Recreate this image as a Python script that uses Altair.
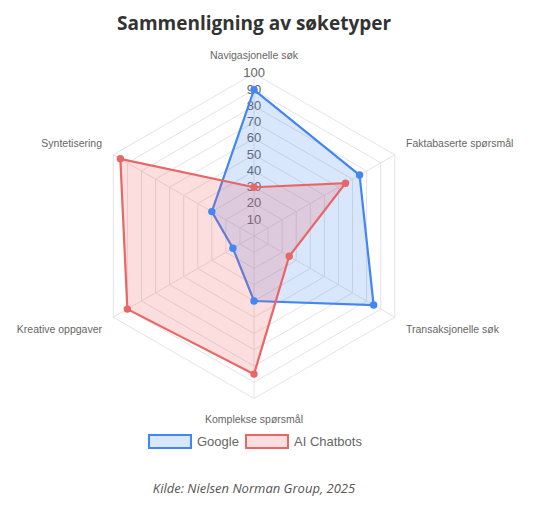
import altair as alt
import pandas as pd
import math

# ---- data ----
categories = ["Navigasjonelle søk", "Faktabaserte spørsmål", "Transaksjonelle søk",
              "Komplekse spørsmål", "Kreative oppgaver", "Syntetisering"]
series = ["Google", "AI Chatbots"]
google = [90, 75, 85, 40, 15, 30]
ai_chatbots = [30, 65, 25, 85, 90, 95]
ticks = [10, 20, 30, 40, 50, 60, 70, 80, 90, 100]

line_colors = ["#4285F4", "#E86666"]
fill_colors = ["#4285F4", "#F05A5A"]

n = len(categories)
W, H = 520, 514
XDOM = [-151.4, 168.6]
YDOM = [-176.0, 140.3]

xs = alt.Scale(domain=XDOM, range=[0, W], nice=False, zero=False)
ys = alt.Scale(domain=YDOM, range=[H, 0], nice=False, zero=False)

rows = []
for s, vals in zip(series, [google, ai_chatbots]):
    for k in range(n + 1):
        i = k % n
        rows.append({"series": s, "cat": categories[i], "idx": i, "order": k, "value": vals[i]})
poly = pd.DataFrame(rows)
pts = poly[poly["order"] < n]

grid_rows = []
for t in ticks:
    for k in range(n + 1):
        grid_rows.append({"level": t, "idx": k % n, "order": k})
grid = pd.DataFrame(grid_rows)
spokes = pd.DataFrame({"idx": list(range(n))})
cat_df = pd.DataFrame({"cat": categories, "idx": list(range(n))})
tick_df = pd.DataFrame({"tick": ticks})

two_pi = 2 * math.pi
A = f"(datum.idx * {two_pi} / {n})"

def xy(chart, rfield, out_x="px", out_y="py"):
    return chart.transform_calculate(
        **{out_x: f"datum.{rfield} * sin{A}", out_y: f"datum.{rfield} * cos{A}"}
    )

X = lambda f="px": alt.X(f"{f}:Q", scale=xs, axis=None)
Y = lambda f="py": alt.Y(f"{f}:Q", scale=ys, axis=None)

grid_layer = xy(alt.Chart(grid), "level").mark_line(
    color="#e4e4e4", strokeWidth=1
).encode(x=X(), y=Y(), detail="level:N", order="order:Q")

spoke_layer = alt.Chart(spokes).transform_calculate(
    x0="0", y0="0", x1=f"100 * sin{A}", y1=f"100 * cos{A}"
).mark_rule(color="#e4e4e4", strokeWidth=1).encode(
    x=X("x0"), y=Y("y0"), x2="x1:Q", y2="y1:Q"
)

tick_layer = alt.Chart(tick_df).transform_calculate(zero="0").mark_text(
    font="Liberation Sans", fontSize=13, color="#666666", baseline="middle", align="center"
).encode(x=X("zero"), y=Y("tick"), text="tick:Q")

color_line = alt.Color("series:N", scale=alt.Scale(domain=series, range=line_colors), legend=None)

fill_layers = []
for s, fc, lc in zip(series, fill_colors, line_colors):
    d = poly[poly["series"] == s]
    fill_layers.append(
        xy(alt.Chart(d), "value").mark_line(
            fill=fc, fillOpacity=0.2, stroke=lc, strokeWidth=2.2, strokeJoin="miter"
        ).encode(x=X(), y=Y(), order="order:Q")
    )

point_layer = xy(alt.Chart(pts), "value").mark_point(
    filled=True, size=55, opacity=1
).encode(x=X(), y=Y(), color=color_line)

label_base = alt.Chart(cat_df).transform_calculate(
    lx=f"108 * sin{A}",
    ly=f"(abs(sin{A}) < 0.01 ? (cos{A} > 0 ? 110.5 : 113) : (cos{A} > 0 ? 113.5 : 116)) * cos{A}",
    s=f"sin{A}",
)
label_layers = []
for al, cond in [("center", "abs(datum.s) < 0.01"), ("left", "datum.s >= 0.01"), ("right", "datum.s <= -0.01")]:
    label_layers.append(label_base.transform_filter(cond).mark_text(
        font="Liberation Sans", fontSize=10.5, color="#666666", baseline="middle", align=al
    ).encode(x=X("lx"), y=Y("ly"), text="cat:N"))

title_layer = alt.Chart(pd.DataFrame({"t": ["Sammenligning av søketyper"]})).mark_text(
    font="Open Sans", fontSize=19, fontWeight="bold", color="#333333", baseline="middle"
).encode(x=alt.value(246), y=alt.value(16), text="t:N")

source_layer = alt.Chart(pd.DataFrame({"t": ["Kilde: Nielsen Norman Group, 2025"]})).mark_text(
    font="Open Sans", fontSize=13, fontStyle="italic", color="#555555", baseline="middle"
).encode(x=alt.value(246), y=alt.value(481), text="t:N")

leg_layers = []
box_x = [141, 238]
for s, fc, lc, bx in zip(series, fill_colors, line_colors, box_x):
    dd = pd.DataFrame({"series": [s]})
    leg_layers.append(alt.Chart(dd).mark_rect(
        fill=fc, fillOpacity=0.2, stroke=lc, strokeWidth=2
    ).encode(x=alt.value(bx), x2=alt.value(bx + 42), y=alt.value(427), y2=alt.value(440)))
    leg_layers.append(alt.Chart(dd).mark_text(
        font="Liberation Sans", fontSize=13, color="#666666", align="left", baseline="middle"
    ).encode(x=alt.value(bx + 48), y=alt.value(433.5), text="series:N"))

chart = alt.layer(
    grid_layer, spoke_layer, tick_layer, *fill_layers, point_layer, *label_layers,
    title_layer, source_layer, *leg_layers
).properties(
    width=W, height=H, autosize=alt.AutoSizeParams(type="none"), padding=0,
    background="white"
).configure_view(strokeWidth=0, stroke=None)

chart.save("out.html", embed_options={"renderer": "svg", "actions": False})
